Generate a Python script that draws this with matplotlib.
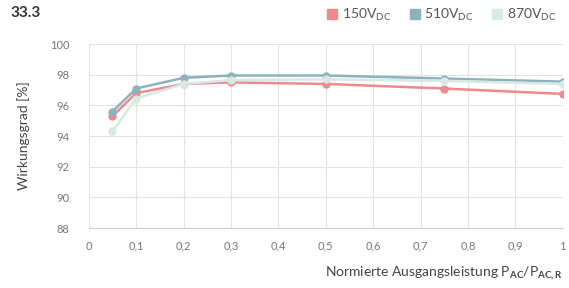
import matplotlib
matplotlib.use("Agg")
import matplotlib.pyplot as plt
from matplotlib.ticker import FuncFormatter
from matplotlib.lines import Line2D

x = [0.05, 0.1, 0.2, 0.3, 0.5, 0.75, 1.0]
eff_150 = [95.3, 96.8, 97.4, 97.5, 97.4, 97.1, 96.75]
eff_510 = [95.6, 97.1, 97.8, 97.95, 97.95, 97.75, 97.55]
eff_870 = [94.3, 96.45, 97.4, 97.65, 97.7, 97.6, 97.4]
labels = ["150V$_{\\mathrm{DC}}$", "510V$_{\\mathrm{DC}}$", "870V$_{\\mathrm{DC}}$"]
colors = ["#ef8a8c", "#8eb2bc", "#d6e9e4"]

plt.rcParams['font.family'] = ['Lato', 'DejaVu Sans']
plt.rcParams['mathtext.fontset'] = 'custom'
plt.rcParams['mathtext.rm'] = 'Lato'
plt.rcParams['mathtext.bf'] = 'Lato:bold'

fig = plt.figure(figsize=(5.69, 2.88), dpi=100)
ax = fig.add_axes([0.156, 0.208, 0.833, 0.639])

series = [eff_150, eff_510, eff_870]
for ys, c, lab in zip(series, colors, labels):
    ax.plot(x, ys, color=c, lw=1.8, marker='o', ms=5, label=lab, zorder=3)

ax.set_xlim(0, 1)
ax.set_ylim(88, 100)
ax.set_xticks([i / 10 for i in range(11)])
ax.set_yticks(range(88, 101, 2))
ax.xaxis.set_major_formatter(FuncFormatter(
    lambda v, p: ("%g" % round(v, 1)).replace(".", ",")))
ax.grid(True, color="#e3e3e3", lw=0.8)
ax.set_axisbelow(True)
for s in ["top", "right", "left"]:
    ax.spines[s].set_visible(False)
ax.spines["bottom"].set_color("#d0d0d0")
ax.tick_params(length=0, labelsize=8, colors="#777777")
ax.tick_params(axis='x', pad=9)
ax.tick_params(axis='y', pad=14)

ax.set_ylabel("Wirkungsgrad [%]", fontsize=10, color="#444444", labelpad=14)
ax.set_xlabel("Normierte Ausgangsleistung P$_{\\mathbf{AC}}$/P$_{\\mathbf{AC,R}}$",
              fontsize=10, color="#444444", loc="right", labelpad=9)

fig.text(0.018, 0.955, "33.3", fontsize=11, fontweight="bold", color="#333333",
         va="center")

leg_handles = [Line2D([], [], ls='none', marker='s', ms=7, color=c) for c in colors]
fig.legend(leg_handles, labels, loc="upper right", bbox_to_anchor=(1.0, 1.02),
           ncol=3, frameon=False, fontsize=10, handletextpad=0.2,
           columnspacing=1.2, labelcolor="#555555", handlelength=1.0)

fig.savefig("out.png", dpi=100)
